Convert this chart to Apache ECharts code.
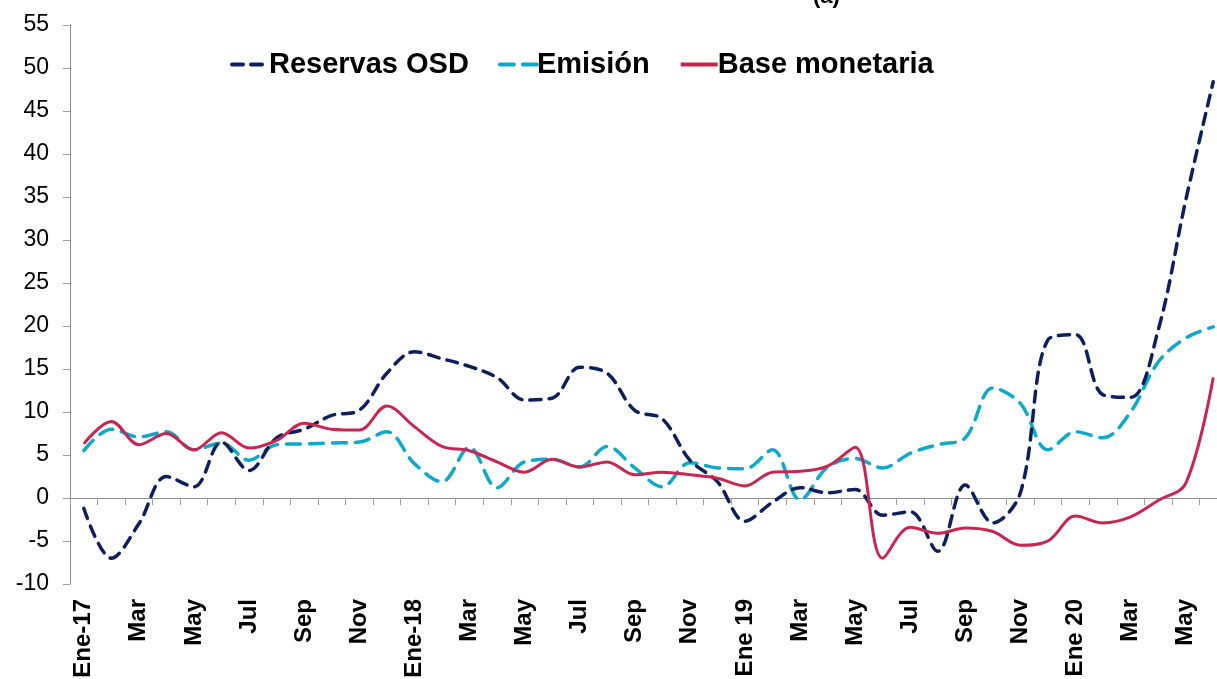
<!DOCTYPE html>
<html>
<head>
<meta charset="utf-8">
<title>Reservas OSD, Emisión y Base monetaria</title>
<script src="https://cdn.jsdelivr.net/npm/echarts@6/dist/echarts.min.js"></script>
<style>
  html, body { margin: 0; padding: 0; background: #fff; }
  #chart { width: 1217px; height: 679px; }
</style>
</head>
<body>
<div id="chart"></div>
<script>
// meses Ene-17 .. Jun-20
const categories = [
  'Ene-17', 'Feb', 'Mar', 'Abr', 'May', 'Jun', 'Jul', 'Ago', 'Sep', 'Oct', 'Nov', 'Dic',
  'Ene-18', 'Feb', 'Mar', 'Abr', 'May', 'Jun', 'Jul', 'Ago', 'Sep', 'Oct', 'Nov', 'Dic',
  'Ene 19', 'Feb', 'Mar', 'Abr', 'May', 'Jun', 'Jul', 'Ago', 'Sep', 'Oct', 'Nov', 'Dic',
  'Ene 20', 'Feb', 'Mar', 'Abr', 'May', 'Jun'
];

const reservasOSD = [
  -1.2, -7.0, -3.0, 2.5, 1.3, 6.5, 3.2, 7.0, 8.0, 9.6, 10.2, 14.5,
  17.0, 16.2, 15.3, 14.0, 11.4, 11.6, 15.2, 14.5, 10.2, 9.2, 4.4, 1.9,
  -2.7, -0.5, 1.2, 0.6, 1.0, -2.0, -1.6, -6.2, 1.5, -2.9, 0.6, 18.4,
  19.0, 12.0, 11.7, 19.5, 34.6, 48.4
];

const emision = [
  5.5, 8.0, 7.1, 7.7, 5.6, 6.4, 4.4, 6.2, 6.3, 6.4, 6.5, 7.7,
  4.0, 1.9, 5.9, 1.2, 4.2, 4.5, 3.6, 6.0, 3.5, 1.3, 4.1, 3.5,
  3.4, 5.6, -0.2, 3.6, 4.6, 3.5, 5.2, 6.2, 7.0, 12.8, 11.0, 5.6,
  7.7, 7.0, 10.0, 15.8, 18.6, 19.9
];

const baseMonetaria = [
  6.3, 8.9, 6.2, 7.5, 5.6, 7.6, 5.8, 6.7, 8.7, 8.0, 7.9, 10.7,
  8.3, 6.0, 5.5, 4.2, 3.0, 4.5, 3.6, 4.2, 2.7, 3.0, 2.7, 2.3,
  1.4, 3.0, 3.1, 3.7, 5.9, -7.0, -3.4, -4.1, -3.5, -3.9, -5.5, -5.0,
  -2.1, -2.9, -2.2, -0.3, 1.7, 14.0
];

const yTicks = { min: -10, max: 55, interval: 5 };

const font = "'Liberation Sans', Arial, sans-serif";

let mychart = echarts.init(document.getElementById('chart'));
mychart.setOption({
  animation: false,
  title: {
    text: '(a)',
    left: 808,
    top: -19,
    textStyle: { fontFamily: font, fontSize: 22, fontWeight: 'bold', color: '#000' }
  },
  legend: {
    left: 225,
    top: 45,
    itemWidth: 37,
    itemHeight: 14,
    itemGap: 29,
    itemStyle: { opacity: 0 },
    lineStyle: { width: 4 },
    textStyle: { fontFamily: font, fontSize: 29, fontWeight: 'bold', color: '#000', padding: [0, 0, 0, -5] }
  },
  grid: {
    left: 70,
    top: 25,
    right: -10,
    bottom: 95,
    containLabel: false,
    outerBoundsMode: 'none'
  },
  xAxis: [
    {
      // linea en cero con marcas
      type: 'category',
      data: categories,
      boundaryGap: true,
      axisLine: { onZero: true, lineStyle: { color: '#8c8c8c', width: 1 } },
      axisTick: { show: true, interval: 0, length: 7, lineStyle: { color: '#a0a0a0' } },
      axisLabel: { show: false },
      splitLine: { show: false }
    },
    {
      // etiquetas abajo
      type: 'category',
      data: categories,
      position: 'bottom',
      boundaryGap: true,
      axisLine: { show: false, onZero: false },
      axisTick: { show: false },
      axisLabel: {
        interval: 1,
        rotate: 90,
        margin: 15,
        hideOverlap: false,
        fontFamily: font,
        fontSize: 24,
        fontWeight: 'bold',
        color: '#000'
      },
      splitLine: { show: false }
    }
  ],
  yAxis: {
    type: 'value',
    min: yTicks.min,
    max: yTicks.max,
    interval: yTicks.interval,
    axisLine: { show: true, lineStyle: { color: '#8c8c8c', width: 1 } },
    axisTick: { show: true, length: 7, lineStyle: { color: '#a0a0a0' } },
    axisLabel: { margin: 21, fontFamily: font, fontSize: 23, color: '#000' },
    splitLine: { show: false }
  },
  series: [
    {
      name: 'Reservas OSD',
      type: 'line',
      data: reservasOSD,
      smooth: 0.35,
      symbol: 'none',
      lineStyle: { color: '#0e1f5b', width: 3.5, type: [11, 8], cap: 'round' },
      itemStyle: { color: '#0e1f5b' },
      z: 3
    },
    {
      name: 'Emisión',
      type: 'line',
      data: emision,
      smooth: 0.35,
      symbol: 'none',
      lineStyle: { color: '#10a8c8', width: 3.5, type: [14, 9], cap: 'round' },
      itemStyle: { color: '#10a8c8' },
      z: 2
    },
    {
      name: 'Base monetaria',
      type: 'line',
      data: baseMonetaria,
      smooth: 0.35,
      symbol: 'none',
      lineStyle: { color: '#c6264f', width: 3 },
      itemStyle: { color: '#c6264f' },
      z: 4
    }
  ]
});
</script>
</body>
</html>
